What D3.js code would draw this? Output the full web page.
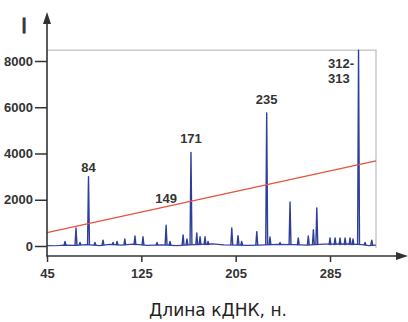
<!DOCTYPE html>
<html>
<head>
<meta charset="utf-8">
<script src="https://cdn.jsdelivr.net/npm/d3@7"></script>
<style>
  body { margin: 0; background: #fff; }
  svg { display: block; }
  .tick text { font-family: "Liberation Sans", Arial, sans-serif; font-weight: bold; font-size: 13px; fill: #333; }
  .tick line { stroke: #333; stroke-width: 1.5; }
</style>
</head>
<body>
<svg id="chart" width="408" height="322"></svg>
<script>
// tick labels
const xTicks = [45, 125, 205, 285];
const yTicks = [0, 2000, 4000, 6000, 8000];

// peaks of the trace (position on the axis, intensity)
const peakPos = [60.3, 69.6, 73, 80.2, 85.7, 92.5, 101, 104.4, 111, 119.6, 126.4, 138.3, 146, 149.3, 160.4,
  163.7, 167.1, 172, 174.8, 179, 181.6, 201.7, 207, 210.1, 222.9, 231.3, 234.1, 242.6, 251.1,
  258.1, 266.6, 270.9, 273.8, 285, 289.3, 293.5, 297.8, 302, 304.5, 309.2, 314.7, 320.4];
const peakHeight = [200, 780, 150, 3000, 150, 250, 150, 200, 300, 430, 400, 150, 900, 200, 480,
  300, 4050, 560, 400, 400, 200, 780, 450, 200, 620, 5750, 390, 150, 1900,
  350, 430, 700, 1650, 350, 350, 350, 350, 350, 300, 8470, 150, 250];

// baseline between peaks
const baseX = [45, 52, 60, 70, 78, 90, 98, 108, 118, 130, 142, 155, 170, 185, 195, 215, 225, 240, 255, 265, 280, 300, 312, 318, 324];
const baseY = [20, 10, 40, 30, 60, 20, 70, 40, 80, 30, 50, 20, 60, 90, 50, 30, 40, 70, 60, 40, 80, 90, 60, 20, 40];

// red threshold line
const threshX = [45, 324];
const threshY = [580, 3680];

// peak annotations
const annoText = ['84', '149', '171', '235', '312-', '313'];
const annoX = [80.2, 146, 167.1, 231.3, 283.3, 283.3];
const annoY = [3200, 1860, 4450, 6140, 7700, 7050];
const annoAnchor = ['middle', 'middle', 'middle', 'middle', 'start', 'start'];

const svg = d3.select('#chart');

const x = d3.scaleLinear()
  .domain([45, 324])
  .range([47, 376])
  ;

const y = d3.scaleLinear()
  .domain([0, 8000])
  .range([246, 61])
  ;

const axisY = 256;

// plot frame (top and right edges)
svg.append('path')
  .attr('d', `M${x(45)},${y(8470)}H${x(324)}V${y(-100)}`)
  .attr('fill', 'none')
  .attr('stroke', '#c9c9c9')
  .attr('stroke-width', 1.5)
  ;

// baseline
const line = d3.line()
  .x(d => x(d[0]))
  .y(d => y(d[1]))
  ;

svg.append('path')
  .datum(d3.zip(baseX, baseY))
  .attr('d', line)
  .attr('fill', 'none')
  .attr('stroke', '#34449e')
  .attr('stroke-width', 1.2)
  ;

// peaks
svg.append('g')
  .selectAll('path')
  .data(d3.zip(peakPos, peakHeight))
  .join('path')
    .attr('d', d => line([[d[0] - 0.8, 40], [d[0], d[1]], [d[0] + 0.8, 40]]))
    .attr('fill', 'none')
    .attr('stroke', '#2e3f9a')
    .attr('stroke-width', 1.4)
    .attr('stroke-linejoin', 'round')
    ;

// threshold
svg.append('path')
  .datum(d3.zip(threshX, threshY))
  .attr('d', line)
  .attr('fill', 'none')
  .attr('stroke', '#e5533c')
  .attr('stroke-width', 1.3)
  ;

// annotations
svg.append('g')
  .selectAll('text')
  .data(annoText)
  .join('text')
    .attr('x', (d, i) => x(annoX[i]))
    .attr('y', (d, i) => y(annoY[i]))
    .attr('text-anchor', (d, i) => annoAnchor[i])
    .attr('font-family', '"Liberation Sans", Arial, sans-serif')
    .attr('font-weight', 'bold')
    .attr('font-size', 13)
    .attr('fill', '#333')
    .text(d => d)
    ;

// axes
const gy = svg.append('g')
  .attr('transform', `translate(${x(45)},0)`)
  .call(d3.axisLeft(y).tickValues(yTicks).tickSize(12).tickPadding(2).tickFormat(d3.format('d')))
  ;
gy.select('.domain').remove();

const gx = svg.append('g')
  .attr('transform', `translate(0,${axisY})`)
  .call(d3.axisBottom(x).tickValues(xTicks).tickSize(6).tickPadding(7))
  ;
gx.select('.domain').remove();

// axis lines with arrows
svg.append('line')
  .attr('x1', x(45)).attr('y1', axisY + 0.5)
  .attr('x2', x(45)).attr('y2', 20)
  .attr('stroke', '#333')
  .attr('stroke-width', 1.6)
  ;
svg.append('path')
  .attr('d', `M${x(45)},12L${x(45) - 4},24L${x(45) + 4},24Z`)
  .attr('fill', '#333')
  ;
svg.append('line')
  .attr('x1', x(45) - 0.5).attr('y1', axisY)
  .attr('x2', 400).attr('y2', axisY)
  .attr('stroke', '#333')
  .attr('stroke-width', 1.6)
  ;
svg.append('path')
  .attr('d', `M408,${axisY}L396,${axisY - 4}L396,${axisY + 4}Z`)
  .attr('fill', '#333')
  ;

// axis titles
svg.append('text')
  .attr('x', 24)
  .attr('y', 33)
  .attr('text-anchor', 'middle')
  .attr('font-family', '"Liberation Sans", Arial, sans-serif')
  .attr('font-size', 22)
  .attr('fill', '#333')
  .attr('stroke', '#333')
  .attr('stroke-width', 0.8)
  .text('I')
  ;

svg.append('text')
  .attr('x', 218)
  .attr('y', 316)
  .attr('text-anchor', 'middle')
  .attr('font-family', '"DejaVu Sans", sans-serif')
  .attr('font-size', 17)
  .attr('fill', '#222')
  .text('Длина кДНК, н.')
  ;
</script>
</body>
</html>
